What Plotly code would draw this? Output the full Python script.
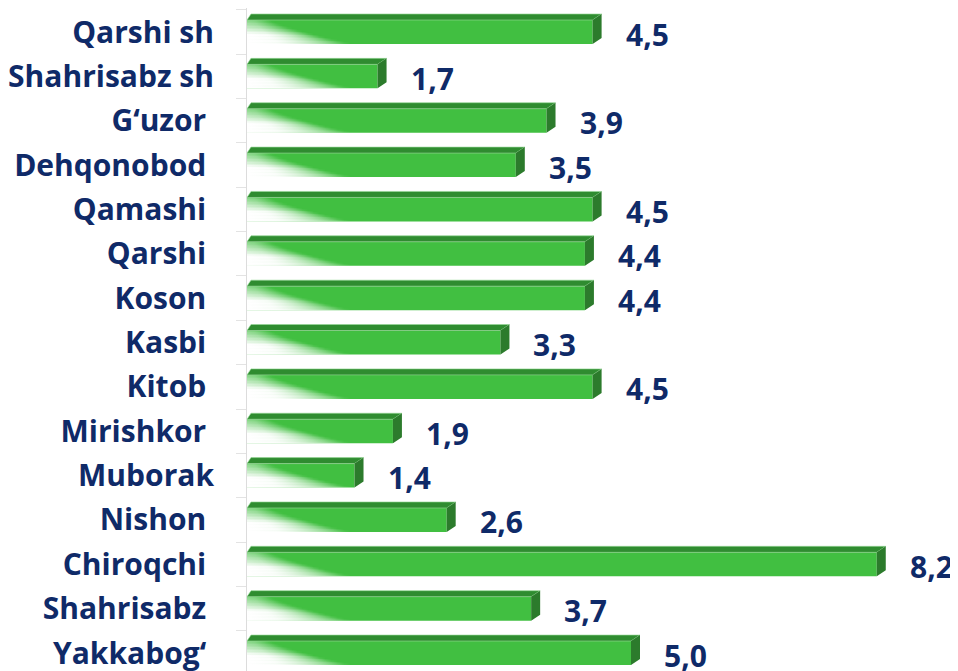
import plotly.graph_objects as go

# ---- data ----
categories = ["Qarshi sh", "Shahrisabz sh", "G\u2018uzor", "Dehqonobod", "Qamashi", "Qarshi",
              "Koson", "Kasbi", "Kitob", "Mirishkor", "Muborak", "Nishon", "Chiroqchi",
              "Shahrisabz", "Yakkabog\u2018"]
values = [4.5, 1.7, 3.9, 3.5, 4.5, 4.4, 4.4, 3.3, 4.5, 1.9, 1.4, 2.6, 8.2, 3.7, 5.0]
tick_labels = ["Qarshi sh", "Shahrisabz sh", "G\u2018uzor\u00a0", "Dehqonobod\u00a0", "Qamashi\u00a0",
               "Qarshi\u00a0", "Koson\u00a0", "Kasbi\u00a0", "Kitob\u00a0", "Mirishkor\u00a0",
               "Muborak", "Nishon\u00a0", "Chiroqchi\u00a0", "Shahrisabz\u00a0", "Yakkabog\u2018\u00a0"]
value_labels = [f"{v:.1f}".replace(".", ",") for v in values]

# ---- geometry / style ----
W, H = 950, 663          # page body has an 8px margin
ML, MR = 239, 4
X_PX = 76.8              # pixels per x unit
Y_PX = 44.36             # pixels per category
FIRST_Y_PX = 24          # pixel center of first bar (figure coords)
x_range = [0, (W - ML - MR) / X_PX]
y_range = [(H - FIRST_Y_PX) / Y_PX, -FIRST_Y_PX / Y_PX]

NAVY = "#0f2a68"
FRONT = "#41bf41"
TOPC = "#2f8c30"
SIDE = "#2c7b2c"
FONT = "Open Sans"

h = 24 / Y_PX
dxr = 9 / X_PX
dxl = 4 / X_PX
dyu = 6 / Y_PX

ypos = list(range(len(categories)))

fig = go.Figure()

# front faces
fig.add_trace(go.Bar(
    y=ypos, x=values, orientation="h", width=h,
    marker=dict(color=FRONT, line=dict(width=0)),
    hoverinfo="skip", showlegend=False,
))

# white diagonal fade overlay: overlapping strips (each row covered twice)
N = 16
for k in range(-1, N):
    f = min(1.0, max(0.0, (k + 1) / N))
    a_eff = min(1.0, 0.35 + 1.1 * f)
    a = 1 - (1 - a_eff) ** 0.5 if a_eff < 1 else 1.0
    stop = 0.3 + 1.05 * f ** 1.3
    xs, ys = [], []
    for i, v in zip(ypos, values):
        top = i - h / 2
        y0 = max(top, top + k * h / N)
        y1 = min(i + h / 2, top + (k + 2) * h / N)
        x1 = min(v, stop)
        xs += [0, x1, x1, 0, 0, None]
        ys += [y0, y0, y1, y1, y0, None]
    fig.add_trace(go.Scatter(
        x=xs, y=ys, mode="lines", fill="toself", line=dict(width=0),
        fillgradient=dict(type="horizontal", start=0, stop=stop,
                          colorscale=[[0, f"rgba(255,255,255,{a:.3f})"],
                                      [0.3, f"rgba(255,255,255,{a*0.85:.3f})"],
                                      [1, "rgba(255,255,255,0)"]]),
        hoverinfo="skip", showlegend=False,
    ))

# top faces
xs, ys = [], []
for i, v in zip(ypos, values):
    yt = i - h / 2
    xs += [0, v, v + dxr, dxl, 0, None]
    ys += [yt, yt, yt - dyu, yt - dyu, yt, None]
fig.add_trace(go.Scatter(x=xs, y=ys, mode="lines", fill="toself",
                         fillcolor=TOPC, line=dict(width=0.8, color="rgba(150,215,150,0.8)"),
                         hoverinfo="skip", showlegend=False))

# side faces
xs, ys = [], []
for i, v in zip(ypos, values):
    yt = i - h / 2
    yb = i + h / 2
    xs += [v, v + dxr, v + dxr, v, v, None]
    ys += [yt, yt - dyu, yb - dyu, yb, yt, None]
fig.add_trace(go.Scatter(x=xs, y=ys, mode="lines", fill="toself",
                         fillcolor=SIDE, line=dict(width=0),
                         hoverinfo="skip", showlegend=False))

# value labels
for i, v, t in zip(ypos, values, value_labels):
    fig.add_annotation(x=v, y=i, text=t, showarrow=False, xanchor="left",
                       xshift=31, yshift=-2,
                       font=dict(family=FONT, size=30, weight="bold", color=NAVY))

fig.update_layout(
    width=W, height=H,
    margin=dict(l=ML, r=MR, t=0, b=0),
    paper_bgcolor="white", plot_bgcolor="white",
    showlegend=False,
    xaxis=dict(range=x_range, visible=False, fixedrange=True),
    yaxis=dict(
        range=y_range, tickmode="array", tickvals=ypos, ticktext=tick_labels,
        showgrid=False, zeroline=False, automargin=False,
        showline=True, linecolor="#dcdcdc", linewidth=1,
        ticks="outside", ticklen=10, tickcolor="rgba(0,0,0,0)",
        minor=dict(ticks="outside", tick0=0.5, dtick=1, ticklen=10, tickcolor="#e3e3e3", showgrid=False),
        ticklabelstandoff=16, ticklabeloverflow="allow",
        tickfont=dict(family=FONT, size=30, weight="bold", color=NAVY),
        fixedrange=True,
    ),
)

fig.write_html("out.html")
